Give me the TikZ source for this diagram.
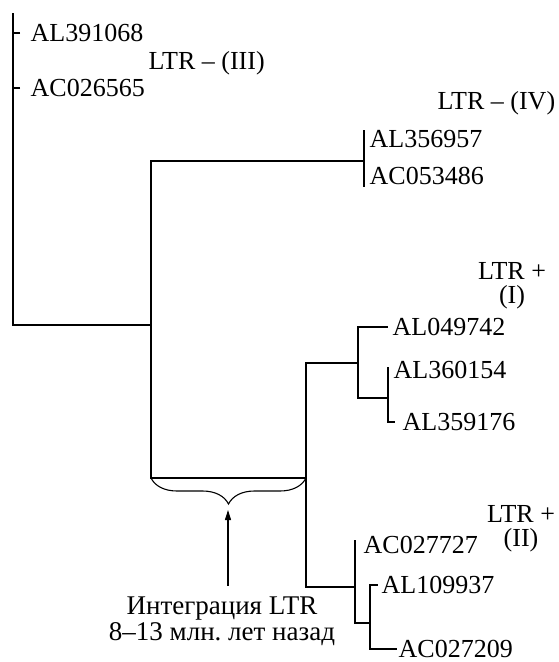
\documentclass[tikz,border=0pt]{standalone}
\usepackage{fontspec}
\setmainfont{Liberation Serif}
\usetikzlibrary{arrows.meta,positioning,decorations.pathreplacing}

\begin{document}
\begin{tikzpicture}[x=1pt, y=-1pt, >={Triangle[length=10pt,width=6pt]}, line width=1.4pt,
  leaf/.style={anchor=west, inner sep=0pt, font=\fontsize{26}{22}\selectfont},
  grp/.style={align=center, inner sep=0pt, font=\fontsize{26}{24}\selectfont}]
  \useasboundingbox (0,0) rectangle (558,662);
  % branch points of the tree
  \coordinate (top) at (13,13);
  \coordinate (n1) at (151,325);
  \coordinate (n2) at (306,478);
  \coordinate (n3) at (358,363);
  \coordinate (n4) at (364,161);
  \coordinate (n5) at (355,587);
  \coordinate (n6) at (388,398);
  \coordinate (n7) at (370,623);
  % leaf ends
  \coordinate (a1) at (20,33);
  \coordinate (a2) at (20,88);
  \coordinate (d1) at (364,130);
  \coordinate (d2) at (364,187);
  \coordinate (b1) at (388,327);
  \coordinate (b2) at (388,367);
  \coordinate (b3) at (395,422);
  \coordinate (c1) at (355,540);
  \coordinate (c2) at (378,585);
  \coordinate (c3) at (397,649);
  \coordinate (tip) at (228,505);

  \draw (top) |- (n1);
  \draw (a1) -- (a1 -| top);
  \draw (a2) -- (a2 -| top);
  \draw (n1) |- (n4);
  \draw (n1) |- (n2);
  \draw (d1) -- (d2);
  \draw (n2) |- (n3);
  \draw (n2) |- (n5);
  \draw (n3) |- (b1);
  \draw (n3) |- (n6);
  \draw (n6) -- (b2);
  \draw (n6) |- (b3);
  \draw (n5) -- (c1);
  \draw (n5) |- (n7);
  \draw (n7) |- (c2);
  \draw (n7) |- (c3);

  \node[leaf] (AL391068) [right=10pt of a1] {AL391068};
  \node[leaf] (AC026565) [right=10pt of a2] {AC026565};
  \node[leaf] (g3) at (148,63) {LTR – (III)};
  \node[leaf] (g4) at (437,103) {LTR – (IV)};
  \node[leaf] (AL356957) at (369,139) {AL356957};
  \node[leaf] (AC053486) at (369,176) {AC053486};
  \node[grp] (g1) at (512,286) {LTR +\\(I)};
  \node[leaf] (AL049742) [right=4pt of b1] {AL049742};
  \node[leaf] (AL360154) at (393,370) {AL360154};
  \node[leaf] (AL359176) [right=7pt of b3] {AL359176};
  \node[grp] (g2) at (521,529) {LTR +\\(II)};
  \node[leaf] (AC027727) at (363,545) {AC027727};
  \node[leaf] (AL109937) [right=3pt of c2] {AL109937};
  \node[leaf] (AC027209) [right=1pt of c3] {AC027209};

  \draw[line width=1.1pt, decorate, decoration={brace, mirror, amplitude=26pt}]
    (n1 |- n2) -- (n2);
  \node[grp, font=\fontsize{27}{26}\selectfont] (note) at (222,621)
    {Интеграция LTR\\8–13 млн.\ лет назад};
  \draw[->, line width=1.1pt, shorten <=10pt, shorten >=5pt] (note.north -| tip) -- (tip);
\end{tikzpicture}
\end{document}
